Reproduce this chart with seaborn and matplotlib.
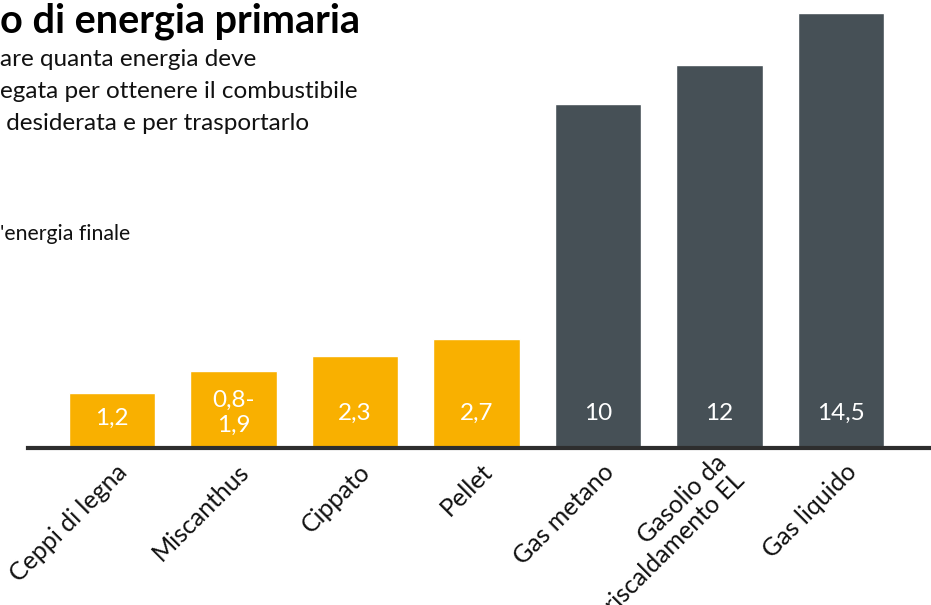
import matplotlib
matplotlib.use("Agg")
import matplotlib.pyplot as plt
import matplotlib.transforms as mtransforms
import seaborn as sns
import pandas as pd

# bar heights are illustrative (not proportional to the values)
categories = ["Ceppi di legna", "Miscanthus", "Cippato", "Pellet",
              "Gas metano", "Gasolio da\nriscaldamento EL", "Gas liquido"]
bar_height = [55, 77, 92, 109, 344, 383, 435]
value_labels = ["1,2", "0,8-\n1,9", "2,3", "2,7", "10", "12", "14,5"]
group = ["biomassa", "biomassa", "biomassa", "biomassa",
         "fossile", "fossile", "fossile"]

title = "o di energia primaria"
subtitle = ["are quanta energia deve",
            "egata per ottenere il combustibile",
            " desiderata e per trasportarlo"]
note = "'energia finale"

palette = {"biomassa": "#F9B000", "fossile": "#465056"}

sns.set_theme(style="white")
plt.rcParams['font.family'] = ['Lato', 'DejaVu Sans']

df = pd.DataFrame({"cat": categories, "h": bar_height, "group": group})

W, H = 931, 605
fig = plt.figure(figsize=(W / 100, H / 100), dpi=100)
ax = fig.add_axes([28 / W, (H - 448) / H, 1 - 28 / W, 448 / H])

sns.barplot(data=df, x="cat", y="h", hue="group", palette=palette,
            dodge=False, width=0.71, legend=False, ax=ax, saturation=1)

ax.set_xlim(-0.69, 6.74)
ax.set_ylim(0, 448)
ax.set_xlabel("")
ax.set_ylabel("")
ax.set_yticks([])
for s in ["top", "right", "left"]:
    ax.spines[s].set_visible(False)
ax.spines["bottom"].set_linewidth(3)
ax.spines["bottom"].set_color("#2e2e2e")
ax.spines["bottom"].set_zorder(5)
ax.tick_params(axis="x", length=0, pad=0)
ax.set_xticks(range(len(categories)))
ax.set_xticklabels(categories, rotation=45, ha="right", va="center",
                   rotation_mode="anchor", fontsize=18, color="#111111",
                   multialignment="right", linespacing=1.15)
# push the rotated labels down/right like in the original
shift = mtransforms.ScaledTranslation(12 / 100, -20 / 100, fig.dpi_scale_trans)
for lab in ax.get_xticklabels():
    lab.set_transform(lab.get_transform() + shift)

for i, (h, lab) in enumerate(zip(bar_height, value_labels)):
    ax.text(i, min(35, h / 2 + 2), lab, ha="center", va="center",
            color="white", fontsize=17.5, linespacing=1.2)

fig.text(0, 1 - 33 / H, title, fontsize=28.5, fontweight="bold",
         ha="left", va="baseline", color="#000000")
for k, line in enumerate(subtitle):
    fig.text(0, 1 - (66 + 32 * k) / H, line, fontsize=17.5,
             ha="left", va="baseline", color="#111111")
fig.text(0, 1 - 240 / H, note, fontsize=15.3, ha="left", va="baseline",
         color="#111111")

fig.savefig("out.png", dpi=100)
